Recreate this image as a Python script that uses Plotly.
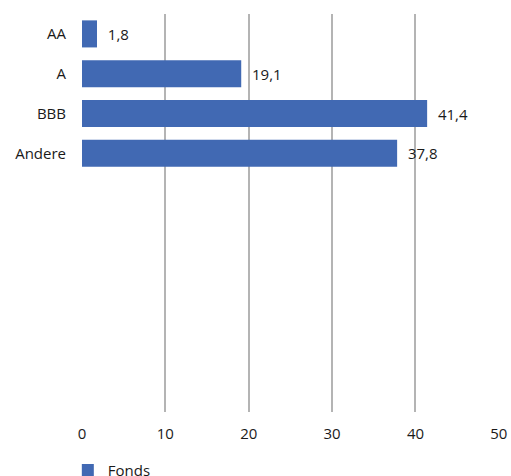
import plotly.graph_objects as go

categories = ["AA", "A", "BBB", "Andere"]
values = [1.8, 19.1, 41.4, 37.8]
x_ticks = [0, 10, 20, 30, 40, 50]
series_name = "Fonds"

positions = list(range(len(categories)))
labels = ["  " + f"{v:.1f}".replace(".", ",") for v in values]

fig = go.Figure()
fig.add_trace(go.Bar(
    x=values, y=positions, orientation="h", name=series_name,
    marker=dict(color="#4169B3", line=dict(width=0)),
    width=0.68,
    text=labels, textposition="outside", cliponaxis=False,
    textfont=dict(size=15, color="#1a1a1a"),
    showlegend=True,
))

fig.update_layout(
    width=511, height=476,
    margin=dict(l=82, r=12, t=14, b=64, autoexpand=False),
    paper_bgcolor="white", plot_bgcolor="white",
    font=dict(family="Open Sans", size=15, color="#1a1a1a"),
    xaxis=dict(range=[0, 50.02], tickvals=x_ticks, showgrid=True,
               gridcolor="#b4b4b4", gridwidth=1.5, zeroline=False,
               showline=False, ticks="outside", ticklen=8, tickcolor="rgba(0,0,0,0)",
               tickfont=dict(size=15), fixedrange=True, automargin=False),
    yaxis=dict(range=[9.5, -0.5], tickvals=positions, ticktext=categories,
               showgrid=False, zeroline=False, showline=False,
               ticks="outside", ticklen=12, tickcolor="rgba(0,0,0,0)",
               tickfont=dict(size=15), fixedrange=True, automargin=False),
    legend=dict(orientation="h", x=-0.034, xanchor="left", y=-0.105, yanchor="top",
                font=dict(size=15), itemwidth=30),
    showlegend=True,
)

fig.write_html(
    "out.html",
    config={"displayModeBar": False},
    post_script="document.body.style.margin='0';document.body.style.overflow='hidden';",
)
